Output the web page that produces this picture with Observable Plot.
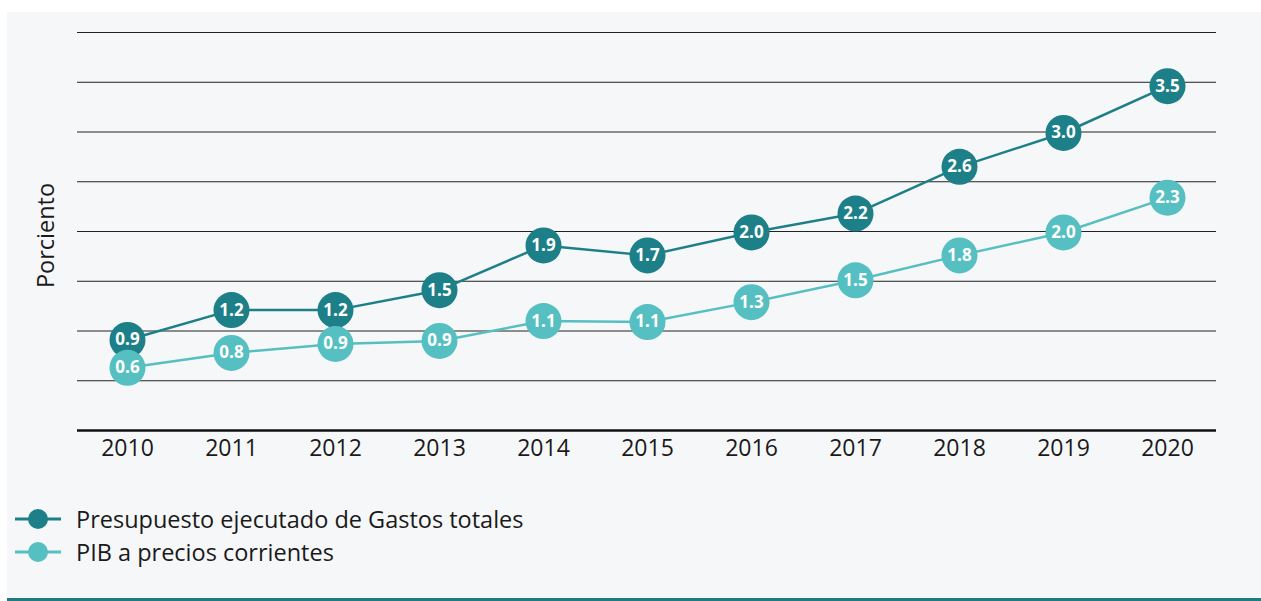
<!DOCTYPE html>
<html><head><meta charset="utf-8">
<script src="https://cdn.jsdelivr.net/npm/d3@7"></script>
<script src="https://cdn.jsdelivr.net/npm/@observablehq/plot@0.6"></script>
<style>
body{margin:0;background:#fff;font-family:"Open Sans",sans-serif;}
#card{position:absolute;left:7px;top:12px;width:1254px;height:586px;background:#f6f7f9;border-bottom:3px solid #1e7b83;}
#legend{margin-top:30px;margin-left:8px;}
.item{display:flex;align-items:center;height:33px;font-size:23.5px;color:#1a1a1a;}
.item svg{margin-right:15px;}
</style></head><body><div id="card"><div id="chart"></div><div id="legend"></div></div>
<script>
const years = [2010, 2011, 2012, 2013, 2014, 2015, 2016, 2017, 2018, 2019, 2020];
const gastos = [0.91, 1.21, 1.21, 1.41, 1.86, 1.76, 1.99, 2.18, 2.65, 2.99, 3.46];
const gastosLabels = ["0.9","1.2","1.2","1.5","1.9","1.7","2.0","2.2","2.6","3.0","3.5"];
const pib = [0.63, 0.78, 0.87, 0.90, 1.10, 1.09, 1.29, 1.51, 1.76, 1.99, 2.34];
const pibLabels = ["0.6","0.8","0.9","0.9","1.1","1.1","1.3","1.5","1.8","2.0","2.3"];
const gridTicks = [0.5, 1, 1.5, 2, 2.5, 3, 3.5, 4];
const seriesNames = ["Presupuesto ejecutado de Gastos totales", "PIB a precios corrientes"];
const colors = ["#1d7f87", "#56bfc1"];

const dataG = years.map((y, i) => ({year: y, value: gastos[i], label: gastosLabels[i]}));
const dataP = years.map((y, i) => ({year: y, value: pib[i], label: pibLabels[i]}));

const chart = Plot.plot({
  width: 1254, height: 460,
  marginLeft: 70, marginRight: 45, marginTop: 20, marginBottom: 42,
  style: {background: "transparent", fontFamily: "Open Sans", fontSize: "23px", color: "#1a1a1a"},
  x: {type: "point", domain: years, padding: 0.47, label: null, tickSize: 0, tickPadding: 9, tickFormat: d => String(d)},
  y: {domain: [0, 4], axis: null},
  marks: [
    Plot.ruleY(gridTicks, {stroke: "#222", strokeWidth: 1}),
    Plot.ruleY([0], {stroke: "#111", strokeWidth: 2.5}),
    Plot.text(["Porciento"], {frameAnchor: "left", textAnchor: "middle", rotate: -90, dx: -31, dy: 4, fontSize: 23.5, fill: "#1a1a1a"}),
    Plot.line(dataG, {x: "year", y: "value", stroke: colors[0], strokeWidth: 2.5}),
    Plot.dot(dataG, {x: "year", y: "value", r: 18, fill: colors[0], stroke: "none"}),
    Plot.text(dataG, {x: "year", y: "value", text: "label", fill: "white", fontWeight: "bold", fontSize: 17}),
    Plot.line(dataP, {x: "year", y: "value", stroke: colors[1], strokeWidth: 2.5}),
    Plot.dot(dataP, {x: "year", y: "value", r: 18, fill: colors[1], stroke: "none"}),
    Plot.text(dataP, {x: "year", y: "value", text: "label", fill: "white", fontWeight: "bold", fontSize: 17})
  ]
});
document.getElementById("chart").appendChild(chart);

const legend = document.getElementById("legend");
seriesNames.forEach((name, i) => {
  const item = document.createElement("div");
  item.className = "item";
  item.innerHTML = `<svg width="46" height="24"><line x1="0" x2="46" y1="12" y2="12" stroke="${colors[i]}" stroke-width="3"/><circle cx="23" cy="12" r="10" fill="${colors[i]}"/></svg><span>${name}</span>`;
  legend.appendChild(item);
});
</script></body></html>
